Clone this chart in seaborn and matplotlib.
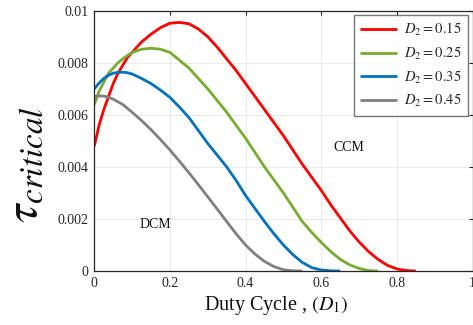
import numpy as np
import pandas as pd
import matplotlib
matplotlib.use("Agg")
import matplotlib.pyplot as plt
import seaborn as sns

# Critical time constant versus duty cycle D1, one curve per D2
d2_labels = [r"$D_2 = 0.15$", r"$D_2 = 0.25$", r"$D_2 = 0.35$", r"$D_2 = 0.45$"]

d1_red = [0, 0.0125, 0.025, 0.0375, 0.05, 0.0625, 0.075, 0.0875, 0.1, 0.125,
          0.15, 0.175, 0.2, 0.225, 0.25, 0.275, 0.3, 0.325, 0.35, 0.375, 0.4,
          0.425, 0.45, 0.475, 0.5, 0.525, 0.55, 0.575, 0.6, 0.625, 0.65, 0.675,
          0.7, 0.725, 0.75, 0.775, 0.8, 0.825, 0.85]
tau_red = [0.0048, 0.0056, 0.0062, 0.0067, 0.0072, 0.0076, 0.0079, 0.0082,
           0.0084, 0.0088, 0.0091, 0.00935, 0.00952, 0.00955, 0.0095, 0.0093,
           0.0090, 0.0086, 0.00815, 0.0077, 0.0072, 0.0067, 0.0062, 0.0057,
           0.0052, 0.00465, 0.0041, 0.0036, 0.0031, 0.00255, 0.00205, 0.00155,
           0.00112, 0.00075, 0.00045, 0.00022, 0.00008, 0.00002, 0.0]

d1_green = [0, 0.0125, 0.025, 0.0375, 0.05, 0.0625, 0.075, 0.0875, 0.1, 0.125,
            0.15, 0.175, 0.2, 0.225, 0.25, 0.275, 0.3, 0.325, 0.35, 0.375, 0.4,
            0.425, 0.45, 0.475, 0.5, 0.525, 0.55, 0.575, 0.6, 0.625, 0.65,
            0.675, 0.7, 0.725, 0.75]
tau_green = [0.0064, 0.0069, 0.00725, 0.0076, 0.0078, 0.0080, 0.00815, 0.00828,
             0.0084, 0.00852, 0.00856, 0.00852, 0.0084, 0.0081, 0.0078, 0.0074,
             0.0070, 0.00655, 0.0061, 0.0056, 0.0051, 0.00455, 0.0040, 0.0035,
             0.0030, 0.00245, 0.0019, 0.00148, 0.0011, 0.00075, 0.00045,
             0.00024, 0.0001, 0.00002, 0.0]

d1_blue = [0, 0.0125, 0.025, 0.0375, 0.05, 0.0625, 0.075, 0.0875, 0.1, 0.125,
           0.15, 0.175, 0.2, 0.225, 0.25, 0.275, 0.3, 0.325, 0.35, 0.375, 0.4,
           0.425, 0.45, 0.475, 0.5, 0.525, 0.55, 0.575, 0.6, 0.625, 0.65]
tau_blue = [0.0070, 0.00722, 0.0074, 0.00752, 0.0076, 0.00763, 0.00764, 0.00762,
            0.00757, 0.0074, 0.0072, 0.00695, 0.00667, 0.0063, 0.0059, 0.0054,
            0.0049, 0.00445, 0.0040, 0.00348, 0.0029, 0.0024, 0.0019, 0.00143,
            0.0010, 0.00063, 0.00033, 0.00013, 0.00004, 0.00001, 0.0]

d1_gray = [0, 0.0125, 0.025, 0.0375, 0.05, 0.0625, 0.075, 0.0875, 0.1, 0.125,
           0.15, 0.175, 0.2, 0.225, 0.25, 0.275, 0.3, 0.325, 0.35, 0.375, 0.4,
           0.425, 0.45, 0.475, 0.5, 0.525, 0.55]
tau_gray = [0.0067, 0.00673, 0.00672, 0.00668, 0.0066, 0.0065, 0.0064, 0.00625,
            0.0061, 0.00578, 0.00543, 0.00505, 0.00465, 0.00422, 0.00378,
            0.00332, 0.00285, 0.00238, 0.0019, 0.00143, 0.0010, 0.00065,
            0.00037, 0.00017, 0.00005, 0.00001, 0.0]

series = [(d1_red, tau_red), (d1_green, tau_green), (d1_blue, tau_blue), (d1_gray, tau_gray)]
colors = ["#FF0000", "#77AC30", "#0072BD", "#808080"]

x_ticks = [0, 0.2, 0.4, 0.6, 0.8, 1]
x_tick_labels = ["0", "0.2", "0.4", "0.6", "0.8", "1"]
y_ticks = [0, 0.002, 0.004, 0.006, 0.008, 0.01]
y_tick_labels = ["0", "0.002", "0.004", "0.006", "0.008", "0.01"]

frames = []
for label, (xs, ys) in zip(d2_labels, series):
    frames.append(pd.DataFrame({"D1": xs, "tau": ys, "D2": label}))
df = pd.concat(frames, ignore_index=True)

sns.set_theme(style="white")
plt.rcParams["font.family"] = ["Liberation Serif", "DejaVu Serif"]
plt.rcParams["mathtext.fontset"] = "stix"
plt.rcParams["xtick.direction"] = "in"
plt.rcParams["ytick.direction"] = "in"

fig = plt.figure(figsize=(4.73, 3.25), dpi=100)
ax = fig.add_axes([0.1994, 0.166, 0.7996, 0.801])

sns.lineplot(data=df, x="D1", y="tau", hue="D2", hue_order=d2_labels,
             palette=colors, linewidth=2.0, ax=ax, sort=False, estimator=None)
for line in ax.get_lines():
    line.set_solid_joinstyle("round")
    line.set_solid_capstyle("butt")

ax.set_xlim(0, 1)
ax.set_ylim(0, 0.01)
ax.set_xticks(x_ticks)
ax.set_xticklabels(x_tick_labels, fontsize=10)
ax.set_yticks(y_ticks)
ax.set_yticklabels(y_tick_labels, fontsize=10)
ax.tick_params(axis="both", which="both", direction="in", length=3, width=0.8,
               top=True, right=True, colors="#262626", pad=4)
ax.grid(True, color="#e6e6e6", linewidth=0.6)
ax.set_axisbelow(True)
for s in ax.spines.values():
    s.set_color("#262626")
    s.set_linewidth(0.9)
    s.set_visible(True)

ax.set_xlabel(r"Duty Cycle , $(D_1)$", fontsize=14.5, color="#111111")
ax.xaxis.set_label_coords(0.48, -0.088)
ax.set_ylabel(r"$\tau_{critical}$", fontsize=34, color="#111111")
ax.yaxis.set_label_coords(-0.125, 0.41)

ax.text(0.672, 0.00473, "CCM", fontsize=10, ha="center", va="center", color="#111111")
ax.text(0.161, 0.00177, "DCM", fontsize=10, ha="center", va="center", color="#111111")

leg = ax.legend(loc="upper right", bbox_to_anchor=(0.988, 0.985), borderaxespad=0,
                fontsize=10.5, frameon=True, fancybox=False, handlelength=2.5,
                handletextpad=0.5, borderpad=0.45, labelspacing=0.45)
leg.get_frame().set_edgecolor("#555555")
leg.get_frame().set_linewidth(1.0)
for line in leg.get_lines():
    line.set_linewidth(2.0)

fig.savefig("out.png", dpi=100)
